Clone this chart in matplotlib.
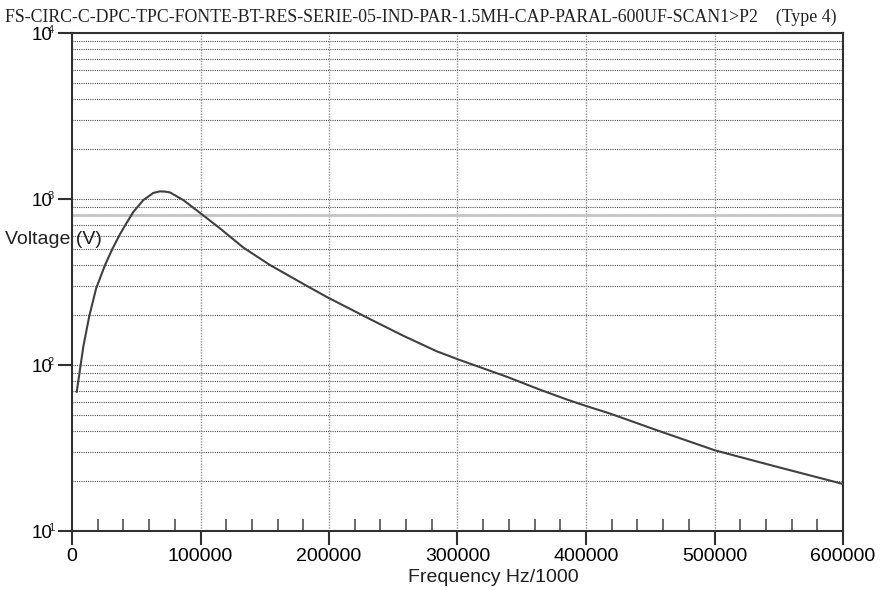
import numpy as np
import matplotlib
matplotlib.use("Agg")
import matplotlib.pyplot as plt
from matplotlib.ticker import FixedLocator, FixedFormatter, NullFormatter

# frequency (Hz/1000) and voltage
freq = [3700, 8800, 13500, 18700, 25700, 31400, 37400, 42600, 47700, 55500,
        63300, 68500, 72500, 76300, 86600, 99600, 115200, 133300, 154100, 182600,
        199500, 231900, 257800, 283800, 300600, 317500, 338300, 364200, 385000,
        400500, 418700, 455000, 500400, 550000, 600000]
volt = [69, 129, 198, 288, 400, 500, 615, 720, 835, 985,
        1088, 1112, 1108, 1095, 985, 825, 665, 510, 400, 300,
        254, 189, 150, 121, 108, 97, 85, 71, 62,
        56.5, 51, 40.5, 30.6, 24.2, 19.2]

ref_level = 800
title = "FS-CIRC-C-DPC-TPC-FONTE-BT-RES-SERIE-05-IND-PAR-1.5MH-CAP-PARAL-600UF-SCAN1>P2    (Type 4)"
decades = [1, 2, 3, 4]
x_major = [0, 100000, 200000, 300000, 400000, 500000, 600000]

plt.rcParams["font.family"] = ["Liberation Sans", "DejaVu Sans"]

fig = plt.figure(figsize=(8.81, 5.90), dpi=100)
ax = fig.add_axes([72 / 881, 1 - 531 / 590, (843 - 72) / 881, (531 - 33) / 590])

ax.set_yscale("log")
ax.set_xlim(0, 600000)
ax.set_ylim(10, 10000)

# dotted grid at every 1..9 step of each decade
for d in range(1, 4):
    for m in range(1, 10):
        v = m * 10 ** d
        if v in (10, 10000):
            continue
        ax.axhline(v, color="#505050", linestyle=(0, (1, 1)), linewidth=0.8, zorder=1)
for xv in x_major[1:-1]:
    ax.axvline(xv, color="#909090", linestyle=(0, (1, 1)), linewidth=1.0, zorder=1)

ax.axhline(ref_level, color="#c4c4c4", linewidth=2.0, zorder=2)

ax.plot(freq, volt, color="#404040", linewidth=1.5, zorder=3)

# ticks
ax.yaxis.set_major_locator(FixedLocator([10 ** d for d in decades]))
ax.yaxis.set_major_formatter(FixedFormatter(["10"] * len(decades)))
ax.yaxis.set_minor_locator(FixedLocator([]))
ax.yaxis.set_minor_formatter(NullFormatter())
ax.tick_params(axis="y", which="major", direction="out", length=10, width=1.5,
               color="#303030", labelsize=13.5, pad=4)

ax.xaxis.set_major_locator(FixedLocator(x_major))
ax.xaxis.set_major_formatter(FixedFormatter([str(v) for v in x_major]))
ax.xaxis.set_minor_locator(FixedLocator(np.arange(20000, 600000, 20000)))
ax.tick_params(axis="x", which="major", direction="out", length=10, width=1.5,
               color="#303030", labelsize=14, pad=2)
ax.tick_params(axis="x", which="minor", direction="in", length=9, width=1.2,
               color="#505050")

# small exponent digits drawn over the "10" labels, as in the scan
for d in decades:
    ax.annotate(str(d), xy=(0, 10 ** d), xycoords=ax.get_yaxis_transform(),
                xytext=(-21, 3), textcoords="offset pixels",
                ha="center", va="center", fontsize=8, color="#202020")

for s in ax.spines.values():
    s.set_linewidth(1.5)
    s.set_color("#303030")

fig.text(5 / 881, 1 - 17 / 590, title, family=["Liberation Serif", "DejaVu Serif"],
         fontsize=12.8, ha="left", va="center", color="#202020")
fig.text(5 / 881, 1 - 240 / 590, "Voltage (V)", fontsize=14, ha="left",
         va="center", color="#202020")
fig.text(493 / 881, 1 - 578 / 590, "Frequency Hz/1000", fontsize=14, ha="center",
         va="center", color="#202020")

fig.savefig("out.png", dpi=100)
